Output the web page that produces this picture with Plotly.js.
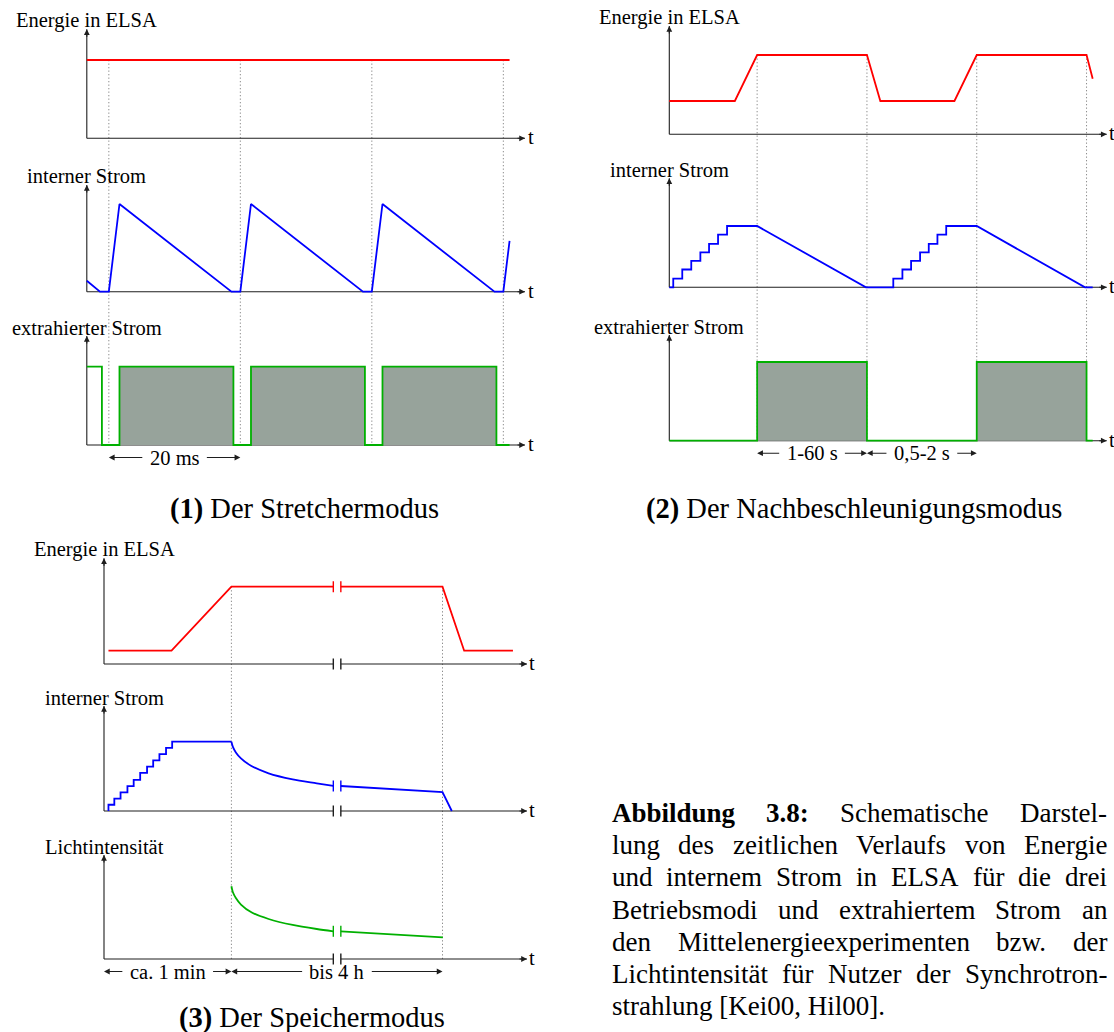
<!DOCTYPE html>
<html>
<head>
<meta charset="utf-8">
<script src="https://cdn.plot.ly/plotly-3.0.1.min.js"></script>
<style>html,body{margin:0;padding:0;background:#fff;}</style>
</head>
<body>
<div id="fig" style="width:1114px;height:1032px;"></div>
<script>
// ---------------- data ----------------
// (1) Stretcher mode, time in ms
const strInjection = [3.35, 23.35, 43.35, 63.35];
const strEnergyT = [0, 64.3];
const strEnergy = [1, 1];
const strCurrentT = [0, 2.0, 3.35, 4.97, 22.0, 23.35, 24.97, 42.0, 43.35, 44.97, 62.0, 63.35, 64.3];
const strCurrent = [0.125, 0, 0, 1, 0, 0, 1, 0, 0, 1, 0, 0, 0.58];
const strExtrT = [0, 2.3, 4.97, 22.3, 24.97, 42.3, 44.97, 62.3, 64.3];
const strExtr = [1, 0, 1, 0, 1, 0, 1, 0, 0];
const strSpill = [[4.97, 22.3], [24.97, 42.3], [44.97, 62.3]];
const strSpans = [[3.35, 23.35, '20 ms']];

// (2) Post-acceleration mode, one unit = one flat-top / one ramp phase
const nbMarks = [0.8, 1.8, 2.8, 3.8];
const nbEnergyT = [0, 0.597, 0.8, 1.8, 1.922, 2.597, 2.8, 3.8, 3.856];
const nbEnergy = [0.42, 0.42, 1, 1, 0.42, 0.42, 1, 1, 0.70];
const nbStepT1 = [0.036, 0.118, 0.200, 0.283, 0.362, 0.444, 0.526];
const nbStepT2 = [2.040, 2.123, 2.202, 2.284, 2.363, 2.442, 2.522];
const nbStepLevel = [0.14, 0.29, 0.43, 0.57, 0.71, 0.86, 1.0];
const nbDecay1 = [[0.8, 1], [1.791, 0]];
const nbDecay2 = [[2.8, 1], [3.786, 0], [3.856, 0]];
const nbExtrT = [0, 0.8, 1.8, 2.8, 3.8, 3.856];
const nbExtr = [0, 1, 0, 1, 0, 0];
const nbSpill = [[0.8, 1.8], [2.8, 3.8]];
const nbSpans = [[0.8, 1.8, '1-60 s'], [1.8, 2.8, '0,5-2 s']];

// (3) Storage mode, broken time axis
const spMarks = [1.0, 2.657];
const spBreak = [1.80, 1.859];
const spEnergyT1 = [0.035, 0.53, 1.0, 1.80];
const spEnergy1 = [0.172, 0.172, 1, 1];
const spEnergyT2 = [1.859, 2.657, 2.827, 3.21];
const spEnergy2 = [1, 1, 0.172, 0.172];
const spStepT = [0.035, 0.081, 0.130, 0.184, 0.233, 0.284, 0.338, 0.386, 0.435, 0.487, 0.535];
const spStepLevel = [0.09, 0.18, 0.27, 0.36, 0.45, 0.55, 0.64, 0.73, 0.82, 0.91, 1.0];
const spDecayT = [1.0, 1.011, 1.035, 1.075, 1.157, 1.292, 1.481, 1.670, 1.80];
const spCurrentDecay = [1, 0.93, 0.845, 0.76, 0.65, 0.544, 0.457, 0.40, 0.361];
const spCurrentT2 = [1.859, 2.657, 2.73];
const spCurrent2 = [0.361, 0.274, 0];
const spLight = [1.049, 0.967, 0.880, 0.786, 0.674, 0.577, 0.491, 0.433, 0.400];
const spLightT2 = [1.859, 2.66];
const spLight2 = [0.400, 0.313];
const spSpans = [[0, 1.0, 'ca. 1 min'], [1.0, 2.657, 'bis 4 h']];

// texts
const titles1 = ['Energie in ELSA', 'interner Strom', 'extrahierter Strom'];
const titles2 = ['Energie in ELSA', 'interner Strom', 'extrahierter Strom'];
const titles3 = ['Energie in ELSA', 'interner Strom', 'Lichtintensität'];
const subCaptions = [['(1)', 'Der Stretchermodus'], ['(2)', 'Der Nachbeschleunigungsmodus'], ['(3)', 'Der Speichermodus']];
const captionLines = [
  'Abbildung 3.8: Schematische Darstel-',
  'lung des zeitlichen Verlaufs von Energie',
  'und internem Strom in ELSA für die drei',
  'Betriebsmodi und extrahiertem Strom an',
  'den Mittelenergieexperimenten bzw. der',
  'Lichtintensität für Nutzer der Synchrotron-',
  'strahlung [Kei00, Hil00].'
];

// ---------------- styling / layout ----------------
const W = 1114, H = 1032;
const FONT = 'Liberation Serif, Times New Roman, serif';
const RED = '#ff0000', BLUE = '#0000ff', GREEN = '#00b000', SPILL = '#97a39b', AXIS = '#1e1e1e', DOT = '#8c8c8c';
const LW = 1.8, LABEL = 20.5, CAP = 27, SUBCAP = 28.5;

// each subplot: origin (px), px per unit, axis extents in data units
const frames = [
  {id: '',  ox: 86.8,  oy: 138.3, kx: 6.575, ky: 78.3, xTip: 66.65, yTip: 1.392},
  {id: '2', ox: 86.8,  oy: 291.7, kx: 6.575, ky: 87.7, xTip: 66.65, yTip: 1.217},
  {id: '3', ox: 86.8,  oy: 445.0, kx: 6.575, ky: 78.3, xTip: 66.65, yTip: 1.392},
  {id: '4', ox: 669.3, oy: 134.3, kx: 109.8, ky: 79.3, xTip: 3.984, yTip: 1.366},
  {id: '5', ox: 669.3, oy: 287.3, kx: 109.8, ky: 61.3, xTip: 3.984, yTip: 1.778},
  {id: '6', ox: 669.3, oy: 440.7, kx: 109.8, ky: 78.7, xTip: 3.984, yTip: 1.343},
  {id: '7', ox: 104.0, oy: 664.0, kx: 127.4, ky: 77.3, xTip: 3.32,  yTip: 1.367},
  {id: '8', ox: 104.0, oy: 811.0, kx: 127.4, ky: 69.3, xTip: 3.32,  yTip: 1.515},
  {id: '9', ox: 104.0, oy: 959.0, kx: 127.4, ky: 69.3, xTip: 3.32,  yTip: 1.50}
];

const layout = {
  width: W, height: H, margin: {l: 0, r: 0, t: 0, b: 0},
  paper_bgcolor: '#fff', plot_bgcolor: 'rgba(0,0,0,0)', showlegend: false,
  shapes: [], annotations: []
};
const traces = [];

frames.forEach(f => {
  const pad = 8;
  const left = Math.max(0, f.ox - pad), right = Math.min(W, f.ox + f.xTip * f.kx + pad);
  const bottom = Math.min(H, f.oy + pad), top = Math.max(0, f.oy - f.yTip * f.ky - pad);
  layout['xaxis' + f.id] = {
    visible: false, domain: [left / W, right / W],
    range: [(left - f.ox) / f.kx, (right - f.ox) / f.kx],
    anchor: 'y' + f.id, fixedrange: true
  };
  layout['yaxis' + f.id] = {
    visible: false, domain: [(H - bottom) / H, (H - top) / H],
    range: [(f.oy - bottom) / f.ky, (f.oy - top) / f.ky],
    anchor: 'x' + f.id, fixedrange: true
  };
});

const paperY = (f, v) => (H - (f.oy - v * f.ky)) / H;
const X = f => 'x' + f.id, Y = f => 'y' + f.id;

function line(f, x, y, color, extra) {
  traces.push(Object.assign({
    type: 'scatter', mode: 'lines', x: x, y: y, xaxis: X(f), yaxis: Y(f),
    hoverinfo: 'skip', line: {color: color, width: LW}
  }, extra || {}));
}
function spill(f, a, b) {
  traces.push({
    type: 'scatter', mode: 'lines', x: [a, a, b, b], y: [0, 1, 1, 0], xaxis: X(f), yaxis: Y(f),
    fill: 'toself', fillcolor: SPILL, line: {width: 0, color: SPILL}, hoverinfo: 'skip'
  });
}
function stairs(t0, steps, levels) {
  const x = [t0], y = [0];
  let prev = 0;
  steps.forEach((t, i) => { x.push(t, t); y.push(prev, levels[i]); prev = levels[i]; });
  return {x, y};
}
function bar(f, xv, yv, color) {
  layout.shapes.push({
    type: 'line', xref: X(f), yref: Y(f), x0: xv, x1: xv, ysizemode: 'pixel', yanchor: yv,
    y0: -5.5, y1: 5.5, line: {color: color, width: 1.4}
  });
}
function axes(f, title, brk) {
  const s = {type: 'line', xref: X(f), yref: Y(f), layer: 'below', line: {color: AXIS, width: 1.1}};
  layout.shapes.push(Object.assign({}, s, {x0: 0, x1: 0, y0: 0, y1: f.yTip}));
  if (brk) {
    layout.shapes.push(Object.assign({}, s, {x0: 0, x1: brk[0], y0: 0, y1: 0}));
    layout.shapes.push(Object.assign({}, s, {x0: brk[1], x1: f.xTip, y0: 0, y1: 0}));
    bar(f, brk[0], 0, AXIS); bar(f, brk[1], 0, AXIS);
  } else {
    layout.shapes.push(Object.assign({}, s, {x0: 0, x1: f.xTip, y0: 0, y1: 0}));
  }
  const head = {xref: X(f), yref: Y(f), axref: 'pixel', ayref: 'pixel', text: '', showarrow: true,
                arrowhead: 2, arrowsize: 1.05, arrowwidth: 1.1, arrowcolor: AXIS};
  layout.annotations.push(Object.assign({}, head, {x: f.xTip, y: 0, ax: -9, ay: 0}));
  layout.annotations.push(Object.assign({}, head, {x: 0, y: f.yTip, ax: 0, ay: 9}));
  layout.annotations.push({xref: X(f), yref: Y(f), x: f.xTip, y: 0, xanchor: 'left', yanchor: 'middle',
    xshift: 1.5, yshift: 1, borderpad: 0, text: 't', showarrow: false,
    font: {family: FONT, size: LABEL, color: '#000'}});
  layout.annotations.push({xref: X(f), yref: Y(f), x: 0, y: f.yTip, xanchor: 'center', yanchor: 'middle',
    yshift: 8.5, text: title, showarrow: false, font: {family: FONT, size: LABEL, color: '#000'}});
}
function markers(fTop, fBottom, marks) {
  marks.forEach(m => layout.shapes.push({
    type: 'line', xref: X(fTop), yref: 'paper', x0: m, x1: m,
    y0: paperY(fTop, 1), y1: paperY(fBottom, 0), layer: 'below',
    line: {color: DOT, width: 1, dash: '1.3px,2.2px'}
  }));
}

const ctx = document.createElement('canvas').getContext('2d');
function textWidth(s, size, bold) {
  ctx.font = (bold ? 'bold ' : '') + size + 'px "Liberation Serif"';
  return ctx.measureText(s).width;
}
function spans(f, list) {
  const yPaper = (H - (f.oy + 12.5)) / H;
  list.forEach(([a, b, label]) => {
    const mid = (a + b) / 2;
    const half = textWidth(label, LABEL, false) / 2 + 6;
    layout.annotations.push({xref: X(f), yref: 'paper', x: mid, y: yPaper, text: label, showarrow: false,
      xanchor: 'center', yanchor: 'middle', font: {family: FONT, size: LABEL, color: '#000'}});
    const arr = {xref: X(f), yref: 'paper', axref: X(f), ayref: 'pixel', y: yPaper, ay: 0, text: '',
      showarrow: true, arrowhead: 2, arrowsize: 1.05, arrowwidth: 1.1, arrowcolor: AXIS};
    layout.annotations.push(Object.assign({}, arr, {x: a, ax: mid - half / f.kx}));
    layout.annotations.push(Object.assign({}, arr, {x: b, ax: mid + half / f.kx}));
  });
}

// ---------------- (1) Stretchermodus ----------------
const [f1a, f1b, f1c] = frames.slice(0, 3);
line(f1a, strEnergyT, strEnergy, RED);
line(f1b, strCurrentT, strCurrent, BLUE);
strSpill.forEach(([a, b]) => spill(f1c, a, b));
line(f1c, strExtrT, strExtr, GREEN, {line: {color: GREEN, width: LW, shape: 'hv'}});
[f1a, f1b, f1c].forEach((f, i) => axes(f, titles1[i]));
markers(f1a, f1c, strInjection);
spans(f1c, strSpans);

// ---------------- (2) Nachbeschleunigungsmodus ----------------
const [f2a, f2b, f2c] = frames.slice(3, 6);
line(f2a, nbEnergyT, nbEnergy, RED);
const c1 = stairs(0, nbStepT1, nbStepLevel), c2 = stairs(nbStepT2[0], nbStepT2, nbStepLevel);
const nbCurrentT = [...c1.x, ...nbDecay1.map(p => p[0]), ...c2.x, ...nbDecay2.map(p => p[0])];
const nbCurrent = [...c1.y, ...nbDecay1.map(p => p[1]), ...c2.y, ...nbDecay2.map(p => p[1])];
line(f2b, nbCurrentT, nbCurrent, BLUE);
nbSpill.forEach(([a, b]) => spill(f2c, a, b));
line(f2c, nbExtrT, nbExtr, GREEN, {line: {color: GREEN, width: LW, shape: 'hv'}});
[f2a, f2b, f2c].forEach((f, i) => axes(f, titles2[i]));
markers(f2a, f2c, nbMarks);
spans(f2c, nbSpans);

// ---------------- (3) Speichermodus ----------------
const [f3a, f3b, f3c] = frames.slice(6, 9);
line(f3a, spEnergyT1, spEnergy1, RED);
line(f3a, spEnergyT2, spEnergy2, RED);
bar(f3a, spBreak[0], spEnergy1[spEnergy1.length - 1], RED);
bar(f3a, spBreak[1], spEnergy2[0], RED);

const c3 = stairs(spStepT[0], spStepT, spStepLevel);
line(f3b, [...c3.x, spDecayT[0]], [...c3.y, spCurrentDecay[0]], BLUE);
line(f3b, spDecayT, spCurrentDecay, BLUE, {line: {color: BLUE, width: LW, shape: 'spline', smoothing: 0.8}});
line(f3b, spCurrentT2, spCurrent2, BLUE);
bar(f3b, spBreak[0], spCurrentDecay[spCurrentDecay.length - 1], BLUE);
bar(f3b, spBreak[1], spCurrent2[0], BLUE);

line(f3c, spDecayT, spLight, GREEN, {line: {color: GREEN, width: LW, shape: 'spline', smoothing: 0.8}});
line(f3c, spLightT2, spLight2, GREEN);
bar(f3c, spBreak[0], spLight[spLight.length - 1], GREEN);
bar(f3c, spBreak[1], spLight2[0], GREEN);

[f3a, f3b, f3c].forEach((f, i) => axes(f, titles3[i], spBreak));
markers(f3a, f3c, spMarks);
spans(f3c, spSpans);

// ---------------- captions ----------------
const subPos = [[304, 509], [854, 509], [311.5, 1018]];
subCaptions.forEach(([num, txt], i) => {
  layout.annotations.push({xref: 'paper', yref: 'paper', x: subPos[i][0] / W, y: (H - subPos[i][1]) / H,
    xanchor: 'center', yanchor: 'middle', showarrow: false, text: '<b>' + num + '</b> ' + txt,
    font: {family: FONT, size: SUBCAP, color: '#000'}});
});

// justified caption block
const capLeft = 611, capRight = 1106, capTop = 813, capStep = 32.2;
captionLines.forEach((ln, li) => {
  const yPaper = (H - (capTop + li * capStep)) / H;
  const words = ln.split(' ');
  const bold = words.map((w, wi) => li === 0 && wi < 2);
  const last = li === captionLines.length - 1;
  if (last) {
    layout.annotations.push({xref: 'paper', yref: 'paper', x: capLeft / W, y: yPaper, xanchor: 'left',
      yanchor: 'middle', borderpad: 0, showarrow: false, text: ln, font: {family: FONT, size: CAP, color: '#000'}});
    return;
  }
  const widths = words.map((w, wi) => textWidth(w, CAP, bold[wi]));
  const total = widths.reduce((s, v) => s + v, 0);
  const gap = (capRight - capLeft - total) / (words.length - 1);
  let x = capLeft;
  words.forEach((w, wi) => {
    layout.annotations.push({xref: 'paper', yref: 'paper', x: x / W, y: yPaper, xanchor: 'left',
      yanchor: 'middle', borderpad: 0, showarrow: false, text: bold[wi] ? '<b>' + w + '</b>' : w,
      font: {family: FONT, size: CAP, color: '#000'}});
    x += widths[wi] + gap;
  });
});

Plotly.newPlot('fig', traces, layout, {staticPlot: true, displayModeBar: false});
</script>
</body>
</html>
